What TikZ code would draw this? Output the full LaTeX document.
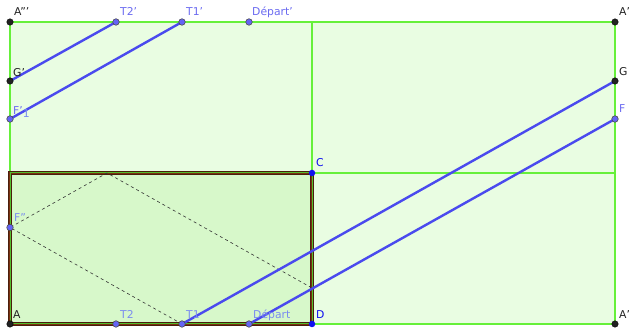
\documentclass[tikz,border=0pt]{standalone}
\usepackage{fontspec}
\setmainfont{DejaVu Sans}
\definecolor{outerfill}{HTML}{E9FDE2}
\definecolor{innerfill}{HTML}{D7F8CA}
\definecolor{gridgreen}{HTML}{66F03A}
\definecolor{brownedge}{HTML}{4A1E0C}
\definecolor{redmid}{HTML}{7A3010}
\definecolor{rayblue}{HTML}{4A4AEE}
\definecolor{ptblue}{HTML}{6464F5}
\definecolor{lblblue}{HTML}{6A6AF0}
\definecolor{lbllight}{HTML}{7A8CF0}
\definecolor{pureblue}{HTML}{1010F0}
\definecolor{dark}{HTML}{222222}
\begin{document}
\begin{tikzpicture}[x=1pt,y=-1pt,
  ray/.style={rayblue,line width=2.4pt},
  gridline/.style={gridgreen,line width=1.2pt},
  bounce/.style={black!80,dash pattern=on 3pt off 3pt,line width=0.6pt},
  ptblk/.style={circle,fill=dark,draw=black,inner sep=0pt,minimum size=6.5pt},
  ptb/.style={circle,fill=ptblue,draw=black!70,line width=0.6pt,inner sep=0pt,minimum size=6.5pt},
  ptpure/.style={circle,fill=pureblue,inner sep=0pt,minimum size=6.5pt},
  lbl/.style={font=\fontsize{10.8}{11}\selectfont,anchor=base west,inner sep=0pt},
]
\useasboundingbox (0,0) rectangle (630,328);
% outer region
\fill[outerfill] (10,22) rectangle (615,324);
\draw[gridline] (10,22) rectangle (615,324);
\draw[gridline] (312,22) -- (312,324);
\draw[gridline] (10,173) -- (615,173);
% inner rectangle ABCD
\fill[innerfill] (10,173) rectangle (312,324);
\draw[brownedge,line width=4.6pt] (10,173) rectangle (312,324);
\draw[redmid,line width=2.4pt] (10,173) rectangle (312,324);
\draw[gridgreen!80!black,line width=1pt] (10,173) rectangle (312,324);
% coordinates
\coordinate (A) at (10,324);
\coordinate (D) at (312,324);
\coordinate (C) at (312,173);
\coordinate (A3) at (10,22);
\coordinate (Ap) at (615,22);
\coordinate (Ab) at (615,324);
\coordinate (G) at (615,81);
\coordinate (F) at (615,119);
\coordinate (Gp) at (10,81);
\coordinate (Fp1) at (10,119);
\coordinate (T2p) at (116,22);
\coordinate (T1p) at (182,22);
\coordinate (Dp) at (249,22);
\coordinate (T2) at (116,324);
\coordinate (T1) at (182,324);
\coordinate (Dep) at (249,324);
\coordinate (Fpp) at (10,227.5);
\coordinate (R1) at (107,173);
\coordinate (R2) at (312,288);
% dashed bounce path
\draw[bounce] (T1) -- (Fpp) -- (R1) -- (R2);
% blue rays
\draw[ray] (T1) -- (G);
\draw[ray] (Dep) -- (F);
\draw[ray] (T2p) -- (Gp);
\draw[ray] (T1p) -- (Fp1);
% points
\node[ptblk] (nA3) at (A3) {};
\node[ptblk] (nAp) at (Ap) {};
\node[ptblk] (nAb) at (Ab) {};
\node[ptblk] (nG) at (G) {};
\node[ptblk] (nGp) at (Gp) {};
\node[ptblk] (nA) at (A) {};
\node[ptb] (nF) at (F) {};
\node[ptb] (nFp1) at (Fp1) {};
\node[ptb] (nT2p) at (T2p) {};
\node[ptb] (nT1p) at (T1p) {};
\node[ptb] (nDp) at (Dp) {};
\node[ptb] (nT2) at (T2) {};
\node[ptb] (nT1) at (T1) {};
\node[ptb] (nDep) at (Dep) {};
\node[ptb] (nFpp) at (Fpp) {};
\node[ptpure] (nC) at (C) {};
\node[ptpure] (nD) at (D) {};
% labels
\node[lbl,dark] (lA3) at (14,16) {A'''};
\node[lbl,lblblue] (lT2p) at (120,16) {T2'};
\node[lbl,lblblue] (lT1p) at (186,16) {T1'};
\node[lbl,lblblue] (lDp) at (252,16) {Départ'};
\node[lbl,dark] (lAp) at (619,16) {A'};
\node[lbl,dark] (lG) at (619,76) {G};
\node[lbl,lblblue] (lF) at (619,113) {F};
\node[lbl,dark] (lGp) at (13,77) {G'};
\node[lbl,lblblue] (lFp1) at (13,115) {F'\raisebox{-2.5pt}{\textcolor{lbllight}{1}}};
\node[lbl,pureblue] (lC) at (316,167) {C};
\node[lbl,lbllight] (lFpp) at (14,222) {F''};
\node[lbl,dark] (lA) at (13,319) {A};
\node[lbl,lbllight] (lT2) at (120,319) {T2};
\node[lbl,lbllight] (lT1) at (186,319) {T1};
\node[lbl,lbllight] (lDep) at (253,319) {Départ};
\node[lbl,pureblue] (lD) at (316,319) {D};
\node[lbl,dark] (lAb) at (619,319) {A'};
\end{tikzpicture}
\end{document}
